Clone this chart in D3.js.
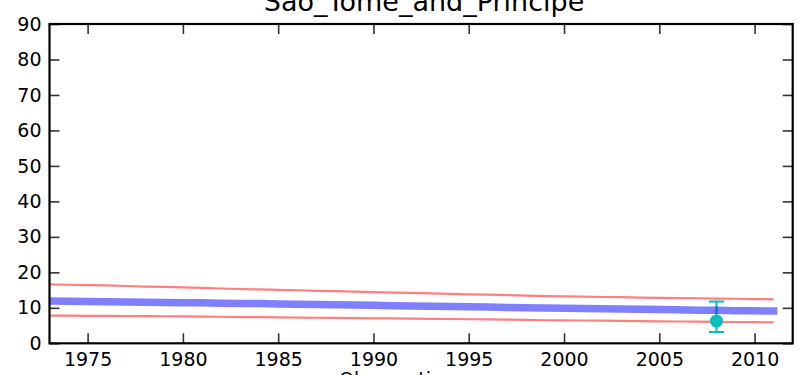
<!DOCTYPE html>
<html>
<head>
<meta charset="utf-8">
<script src="https://cdn.jsdelivr.net/npm/d3@7"></script>
<style>
html,body{margin:0;padding:0;background:#fff;overflow:hidden;}
svg text{font-family:"DejaVu Sans",sans-serif;}
</style>
</head>
<body>
<svg id="chart" width="803" height="375"></svg>
<script>
const title = "Sao_Tome_and_Principe";
const xLabel = "Observation year";
const years = d3.range(1973, 2012);
const estimate = [11.9,11.85,11.8,11.7,11.65,11.6,11.5,11.45,11.4,11.3,
  11.25,11.2,11.1,11.0,10.95,10.85,10.8,10.7,
  10.6,10.5,10.45,10.35,10.3,10.2,10.1,10.05,
  9.95,9.9,9.8,9.75,9.65,9.6,
  9.5,9.45,9.35,9.3,9.2,9.15,9.1];
const upper = [16.6,16.5,16.4,16.3,16.15,16.0,15.9,15.75,15.6,15.45,
  15.3,15.2,15.05,14.95,14.8,14.7,14.55,14.45,
  14.3,14.2,14.05,13.95,13.8,13.7,13.6,13.45,
  13.3,13.25,13.15,13.05,13.0,12.9,
  12.8,12.75,12.7,12.6,12.55,12.45,12.4];
const lower = [7.8,7.78,7.75,7.72,7.7,7.66,7.62,7.58,7.54,7.48,
  7.4,7.36,7.3,7.26,7.2,7.15,7.1,7.05,
  7.0,6.95,6.9,6.85,6.78,6.72,6.65,6.58,
  6.5,6.46,6.42,6.38,6.32,6.26,
  6.2,6.15,6.1,6.05,6.0,5.95,5.9];
const obsYear = [2008];
const obsValue = [6.3];
const obsLow = [3.2];
const obsHigh = [11.8];
const xTicks = [1975,1980,1985,1990,1995,2000,2005,2010];
const yTicks = [0,10,20,30,40,50,60,70,80,90];

const svg = d3.select("#chart");
const L = 49.5, R = 792.7, T = 24, B = 343.3;
const x = d3.scaleLinear().domain([1973, 2012]).range([L, R]);
const y = d3.scaleLinear().domain([0, 90]).range([B, T]);

svg.append("defs").append("clipPath").attr("id","clip")
  .append("rect").attr("x",L).attr("y",T).attr("width",R-L).attr("height",B-T);

const g = svg.append("g").attr("clip-path","url(#clip)");

// error bar
obsYear.forEach((yr,i)=>{
  const cx = x(yr);
  g.append("line").attr("x1",cx).attr("x2",cx).attr("y1",y(obsLow[i])).attr("y2",y(obsHigh[i]))
    .attr("stroke","#00bfbf").attr("stroke-width",2);
  [obsLow[i], obsHigh[i]].forEach(v=>{
    g.append("line").attr("x1",cx-7.5).attr("x2",cx+7.5).attr("y1",y(v)).attr("y2",y(v))
      .attr("stroke","#00bfbf").attr("stroke-width",2);
  });
});

const line = d3.line().x((d,i)=>x(years[i])).y(d=>y(d));
g.append("path").datum(upper).attr("d",line).attr("fill","none")
  .attr("stroke","red").attr("stroke-opacity",0.5).attr("stroke-width",2.2);
g.append("path").datum(lower).attr("d",line).attr("fill","none")
  .attr("stroke","red").attr("stroke-opacity",0.5).attr("stroke-width",2.2);
g.append("path").datum(estimate).attr("d",line).attr("fill","none")
  .attr("stroke","blue").attr("stroke-opacity",0.5).attr("stroke-width",7.5)
  .attr("stroke-linecap","square");

obsYear.forEach((yr,i)=>{
  g.append("circle").attr("cx",x(yr)).attr("cy",y(obsValue[i])).attr("r",6.3)
    .attr("fill","#00bfbf").attr("stroke","#00bfbf").attr("stroke-width",0.5);
});

// axes
const tickLen = 10;
const axB = svg.append("g").attr("transform",`translate(0,${B})`)
  .call(d3.axisBottom(x).tickValues(xTicks).tickFormat(d3.format("d")).tickSizeInner(-tickLen).tickSizeOuter(0).tickPadding(9));
const axT = svg.append("g").attr("transform",`translate(0,${T})`)
  .call(d3.axisTop(x).tickValues(xTicks).tickFormat("").tickSizeInner(-tickLen).tickSizeOuter(0));
const axL = svg.append("g").attr("transform",`translate(${L},0)`)
  .call(d3.axisLeft(y).tickValues(yTicks).tickFormat(d3.format("d")).tickSizeInner(-tickLen).tickSizeOuter(0).tickPadding(8));
const axR = svg.append("g").attr("transform",`translate(${R},0)`)
  .call(d3.axisRight(y).tickValues(yTicks).tickFormat("").tickSizeInner(-tickLen).tickSizeOuter(0));
[axB,axT,axL,axR].forEach(a=>{
  a.select(".domain").remove();
  a.selectAll(".tick line").attr("stroke","#333").attr("stroke-width",1.6);
  a.selectAll(".tick text").attr("font-size","19px").attr("fill","#000").attr("font-family","DejaVu Sans");
});
svg.append("rect").attr("x",L).attr("y",T).attr("width",R-L).attr("height",B-T)
  .attr("fill","none").attr("stroke","#000").attr("stroke-width",2.2);

svg.append("text").attr("x",(L+R)/2 + 3).attr("y",11).attr("text-anchor","middle")
  .attr("font-size","27px").text(title);
svg.append("text").attr("x",(L+R)/2).attr("y",386).attr("text-anchor","middle")
  .attr("font-size","19px").text(xLabel);
</script>
</body>
</html>
